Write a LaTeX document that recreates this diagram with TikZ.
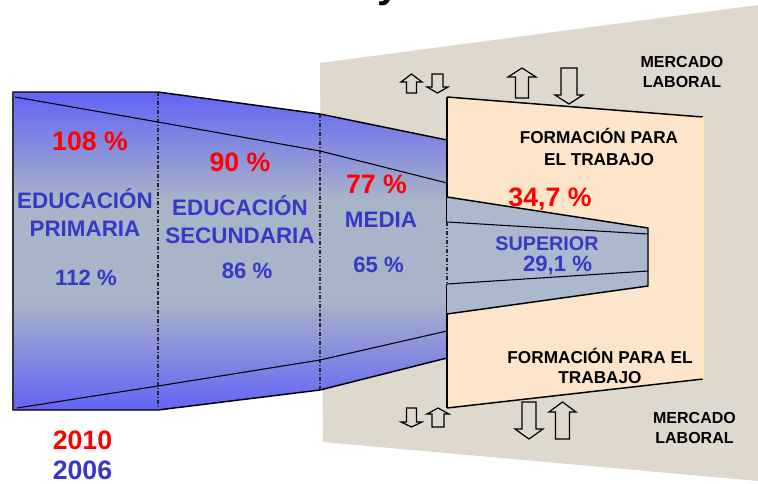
\documentclass[tikz,border=0pt]{standalone}
\usepackage{fontspec}
\setmainfont{Liberation Sans}
\definecolor{wallc}{RGB}{223,216,204}
\definecolor{peach}{RGB}{252,229,202}
\definecolor{blueA}{RGB}{98,98,246}
\definecolor{grayA}{RGB}{168,180,200}
\definecolor{supc}{RGB}{172,184,206}
\definecolor{txtblue}{RGB}{55,55,200}
\definecolor{paleyel}{RGB}{252,232,170}
\definecolor{redc}{RGB}{255,0,0}
\tikzset{
  edge/.style={draw=black, line width=1.1pt},
  thin line/.style={draw=black, line width=0.8pt},
  divider/.style={draw=black!85, line width=0.8pt, dash pattern=on 3pt off 1.5pt on 0.8pt off 1.5pt},
  blk/.style={draw=black, line width=0.9pt, fill=wallc, line join=miter},
  bluelbl/.style={font=\bfseries\fontsize{16.8}{20.5}\selectfont, text=txtblue, align=center, inner sep=0pt, anchor=base},
  bluenum/.style={font=\bfseries\fontsize{16.6}{20}\selectfont, text=txtblue, inner sep=0pt, anchor=base},
  redpct/.style={font=\bfseries\fontsize{20}{24}\selectfont, text=redc, inner sep=0pt, anchor=base},
  blacklbl/.style={font=\bfseries\fontsize{12.9}{16}\selectfont, text=black, align=center, inner sep=0pt, anchor=base},
  mercado/.style={font=\bfseries\fontsize{12}{14.3}\selectfont, text=black, align=center, inner sep=0pt, anchor=base},
}
\newcommand{\UpBlk}[6]{%
  \draw[blk] (#1,#2) -- (#1+#5,#3) -- (#1+#6,#3) -- (#1+#6,#4) -- (#1-#6,#4) -- (#1-#6,#3) -- (#1-#5,#3) -- cycle;}
\newcommand{\DnBlk}[6]{%
  \draw[blk] (#1-#6,#2) -- (#1+#6,#2) -- (#1+#6,#3) -- (#1+#5,#3) -- (#1,#4) -- (#1-#5,#3) -- (#1-#6,#3) -- cycle;}
\begin{document}
\begin{tikzpicture}[x=0.75pt, y=-0.75pt]
\useasboundingbox (0,0) rectangle (758,483);
% wall
\fill[wallc] (320,63) -- (758,5) -- (758,481) -- (323,442) -- cycle;
% title fragment
\node[font=\bfseries\fontsize{30}{36}\selectfont, anchor=base, inner sep=0pt] (title) at (389,-3) {y};
% blue funnel
\begin{scope}
  \clip (13,92) -- (158,92) -- (320,114) -- (447,140) -- (447,358) -- (320,390) -- (158,410) -- (13,410) -- cycle;
  \fill[grayA] (0,80) rectangle (460,420);
  \shade[top color=blueA, bottom color=grayA] (0,91) rectangle (460,200);
  \shade[top color=grayA, bottom color=blueA] (0,300) rectangle (460,411);
\end{scope}
\draw[edge] (447,140) -- (320,114) -- (158,92) -- (13,92) -- (13,410) -- (158,410) -- (320,390) -- (447,358);
\draw[line width=1.4pt, draw=black!80] (13,92) -- (13,410);
% dividers
\draw[divider] (158,92) -- (158,410);
\draw[divider] (320,114) -- (320,390);
% inner 2010 lines
\draw[thin line] (15,97) -- (158,122) -- (320,151) -- (447,183);
\draw[thin line] (17,408) -- (158,386) -- (320,360) -- (447,331);
% formacion panel
\fill[peach] (447,97) -- (703,117) -- (703,379) -- (447,408) -- cycle;
\draw[edge] (447,97) -- (703,117);
\draw[edge] (447,408) -- (703,379);
\draw[draw=paleyel, line width=1.2pt] (703,117) -- (703,379);
\draw[edge] (447,97) -- (447,222);
\draw[edge] (447,284) -- (447,408);
% superior
\fill[supc] (447,197) -- (648,228) -- (648,286) -- (447,314) -- cycle;
\draw[edge] (447,197) -- (648,228) -- (648,286) -- (447,314);
\draw[thin line] (447,222) -- (648,234);
\draw[thin line] (447,284) -- (648,271);
\draw[divider] (447,222) -- (447,284);
% arrows
\UpBlk{411.5}{74}{82}{93}{10.5}{5}
\DnBlk{437.5}{74}{87}{93}{10.5}{5.5}
\UpBlk{522}{68}{77}{98}{14}{6.5}
\DnBlk{569}{68}{95}{104}{14}{8}
\DnBlk{411.5}{408}{422}{427}{10.5}{5}
\UpBlk{438}{408}{414}{427}{11}{6}
\DnBlk{529}{402}{429}{439}{14}{7}
\UpBlk{562.5}{402}{412}{439}{13.5}{7}
% labels
\node[redpct] (p108) at (90,150) {108 \%};
\node[redpct] (p90) at (240,171) {90 \%};
\node[redpct] (p77) at (376.5,193) {77 \%};
\node[redpct] (p347) at (550,206) {34,7 \%};
\node[bluelbl] (prim) at (85,236) {EDUCACIÓN\\PRIMARIA};
\node[bluelbl] (sec) at (240,243) {EDUCACIÓN\\SECUNDARIA};
\node[bluelbl] (media) at (381,227) {MEDIA};
\node[bluenum] (p112) at (86,285) {112 \%};
\node[bluenum] (p86) at (247,278) {86 \%};
\node[bluenum] (p65) at (378.5,272) {65 \%};
\node[bluelbl, font=\bfseries\fontsize{14.8}{18}\selectfont] (sup) at (547,250) {SUPERIOR};
\node[bluenum] (p291) at (557.5,271) {29,1 \%};
\node[blacklbl, font=\bfseries\fontsize{12.9}{16.5}\selectfont] (ftop) at (599,165) {FORMACIÓN PARA\\EL TRABAJO};
\node[blacklbl, font=\bfseries\fontsize{12.9}{15}\selectfont] (fbot) at (600,383) {FORMACIÓN PARA EL\\TRABAJO};
\node[mercado] (mtop) at (682,87) {MERCADO\\LABORAL};
\node[mercado] (mbot) at (694.5,443) {MERCADO\\LABORAL};
\node[redpct] (y2010) at (82.5,449) {2010};
\node[redpct, text=txtblue] (y2006) at (82.5,479) {2006};
\end{tikzpicture}
\end{document}
